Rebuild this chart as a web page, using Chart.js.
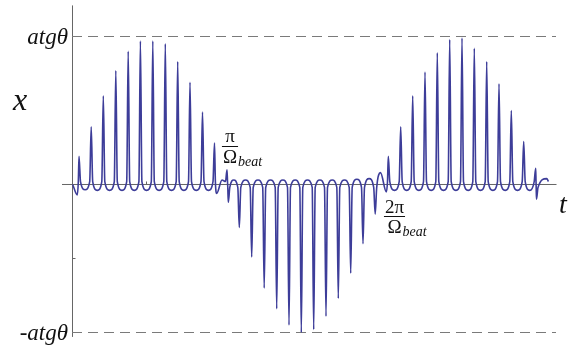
<!DOCTYPE html>
<html>
<head>
<meta charset="utf-8">
<title>x(t) beat</title>
<script src="https://cdn.jsdelivr.net/npm/chart.js@4.4.1/dist/chart.umd.min.js"></script>
<style>
    html, body { margin: 0; padding: 0; background: #fff; }
    #wrap { width: 568px; height: 347px; position: relative; }
</style>
</head>
<body>
<div id="wrap"><canvas id="beatChart"></canvas></div>
<script>
// time t measured from the origin of the axes, value in units of atgθ
// sharp spike tips
const tipT = [7.0, 19.2, 31.3, 43.8, 56.2, 68.4, 80.8, 93.3, 105.7, 118.0, 130.5, 142.5,
    155.0, 156.3,
    167.3, 179.7, 192.2, 204.7, 217.0, 229.3, 241.7, 254.0, 266.3, 278.7, 291.0, 303.2,
    316.3, 328.7, 340.7, 353.0, 365.3, 377.7, 390.0, 402.3, 414.7, 427.0, 439.3, 451.7,
    463.7, 464.5];
const tipV = [0.19, 0.39, 0.60, 0.77, 0.90, 0.97, 0.97, 0.95, 0.83, 0.69, 0.49, 0.28,
    0.10, -0.12,
    -0.29, -0.49, -0.70, -0.84, -0.95, -1.00, -0.98, -0.89, -0.77, -0.60, -0.40, -0.20,
    0.19, 0.39, 0.60, 0.76, 0.89, 0.98, 0.99, 0.92, 0.83, 0.68, 0.50, 0.29,
    0.11, -0.10];

// rounded troughs / arches between the tips (plus both ends of the trace)
const gapT = [0.7, 5.3,
    13.1, 25.3, 37.6, 50.0, 62.3, 74.6, 87.1, 99.5, 111.9, 124.3, 136.5,
    144.7, 150.0, 161.8,
    173.5, 186.0, 198.5, 210.9, 223.2, 235.5, 247.9, 260.2, 272.5, 284.9, 297.1,
    308.5, 314.3,
    322.5, 334.7, 346.9, 359.2, 371.5, 383.9, 396.2, 408.5, 420.9, 433.2, 445.5, 457.7,
    474.7, 476.5];
const gapV = [0.0, -0.07,
    -0.035, -0.04, -0.04, -0.04, -0.04, -0.04, -0.04, -0.04, -0.04, -0.04, -0.04,
    -0.06, 0.03, 0.03,
    0.03, 0.03, 0.03, 0.03, 0.03, 0.03, 0.03, 0.03, 0.03, 0.035, 0.04,
    0.08, -0.05,
    -0.04, -0.04, -0.04, -0.04, -0.04, -0.04, -0.04, -0.04, -0.04, -0.04, -0.04, -0.04,
    0.04, 0.02];

// dashed ±atgθ levels
const levels = [1, -1];
const levelLabels = ['atgθ', '-atgθ'];
const dashT = [0, 484];

// fraction labels on the t axis: numerator and position (t)
const beatNum = ['π', '2π'];
const beatT = [158.0, 322.5];

const tRange = [-72, 496];
const vRange = [-1.098, 1.2466];

const FOOT = 1.5;     // half width of a spike foot
const FOOT_V = 0.02;

function buildTrace() {
    const pts = [];
    tipT.forEach((t, i) => pts.push({ x: t, y: tipV[i], tip: true }));
    gapT.forEach((t, i) => pts.push({ x: t, y: gapV[i], tip: false }));
    pts.sort((a, b) => a.x - b.x);

    const out = [];
    pts.forEach((p, i) => {
        if (!p.tip) {
            out.push({ x: p.x, y: p.y });
            return;
        }
        const prev = pts[i - 1];
        const next = pts[i + 1];
        const fl = Math.min(FOOT, prev ? (p.x - prev.x) * 0.4 : FOOT);
        const fr = Math.min(FOOT, next ? (next.x - p.x) * 0.4 : FOOT);
        const fv = p.y > 0 ? FOOT_V : -FOOT_V;
        out.push({ x: p.x - fl, y: fv });
        out.push({ x: p.x, y: p.y });
        out.push({ x: p.x + fr, y: fv });
    });
    return out;
}

const axesPlugin = {
    id: 'axesAndLabels',
    beforeDatasetsDraw(chart) {
        const { ctx, scales: { x, y } } = chart;
        const x0 = Math.round(x.getPixelForValue(0)) + 0.5;
        const y0 = y.getPixelForValue(0);
        ctx.save();
        ctx.strokeStyle = '#666';
        ctx.lineWidth = 1;
        ctx.beginPath();
        ctx.moveTo(x.getPixelForValue(-10), y0);
        ctx.lineTo(x.getPixelForValue(484.5), y0);
        ctx.moveTo(x0, y.getPixelForValue(1.21));
        ctx.lineTo(x0, y.getPixelForValue(-1.03));
        // small ticks
        const yt = Math.round(y.getPixelForValue(-0.5)) + 0.5;
        ctx.moveTo(x0, yt);
        ctx.lineTo(x0 + 3, yt);
        const xt = Math.round(x.getPixelForValue(74)) + 0.5;
        ctx.moveTo(xt, y0);
        ctx.lineTo(xt, y0 - 3);
        ctx.stroke();
        ctx.restore();
    },
    afterDatasetsDraw(chart) {
        const { ctx, scales: { x, y } } = chart;
        const x0 = x.getPixelForValue(0);
        ctx.save();
        ctx.fillStyle = '#111';
        ctx.textBaseline = 'alphabetic';

        // level labels
        ctx.font = 'italic 23px "Liberation Serif"';
        ctx.textAlign = 'right';
        levels.forEach((lv, i) => {
            ctx.fillText(levelLabels[i], x0 - 4, y.getPixelForValue(lv) + 7.5);
        });

        // axis names
        ctx.textAlign = 'left';
        ctx.font = 'italic 32px "Liberation Serif"';
        ctx.fillText('x', 13, 110);
        ctx.font = 'italic 28px "Liberation Serif"';
        ctx.fillText('t', 559, 213);

        // π/Ω_beat and 2π/Ω_beat
        const tops = [142, 212.5];
        beatT.forEach((t, i) => {
            const cx = x.getPixelForValue(t);
            const b = tops[i];
            ctx.font = '19px "Liberation Serif"';
            ctx.textAlign = 'center';
            const wNum = ctx.measureText(beatNum[i]).width;
            const wOm = ctx.measureText('Ω').width;
            ctx.fillText(beatNum[i], cx, b);
            ctx.fillText('Ω', cx, b + 20.5);
            const half = Math.max(wNum, wOm) / 2 + 1;
            ctx.strokeStyle = '#111';
            ctx.lineWidth = 1;
            ctx.beginPath();
            ctx.moveTo(cx - half, Math.round(b + 3.5) + 0.5);
            ctx.lineTo(cx + half, Math.round(b + 3.5) + 0.5);
            ctx.stroke();
            ctx.textAlign = 'left';
            ctx.font = 'italic 14px "Liberation Serif"';
            ctx.fillText('beat', cx + wOm / 2 + 1, b + 23.5);
        });
        ctx.restore();
    }
};

document.addEventListener('DOMContentLoaded', function() {
    const ctx = document.getElementById('beatChart').getContext('2d');

    const levelSets = levels.map(lv => ({
        data: dashT.map(t => ({ x: t, y: lv })),
        borderColor: '#7a7a7a',
        borderWidth: 1.2,
        borderDash: [10, 6],
        pointRadius: 0,
        tension: 0
    }));

    new Chart(ctx, {
        type: 'line',
        data: {
            datasets: [{
                label: 'x(t)',
                data: buildTrace(),
                borderColor: '#3d3d99',
                borderWidth: 1.6,
                pointRadius: 0,
                cubicInterpolationMode: 'monotone'
            }].concat(levelSets)
        },
        options: {
            responsive: true,
            maintainAspectRatio: false,
            animation: false,
            layout: { padding: 0 },
            plugins: {
                legend: { display: false },
                tooltip: { enabled: false }
            },
            scales: {
                x: {
                    type: 'linear',
                    display: false,
                    min: tRange[0],
                    max: tRange[1]
                },
                y: {
                    display: false,
                    min: vRange[0],
                    max: vRange[1]
                }
            }
        },
        plugins: [axesPlugin]
    });
});
</script>
</body>
</html>
